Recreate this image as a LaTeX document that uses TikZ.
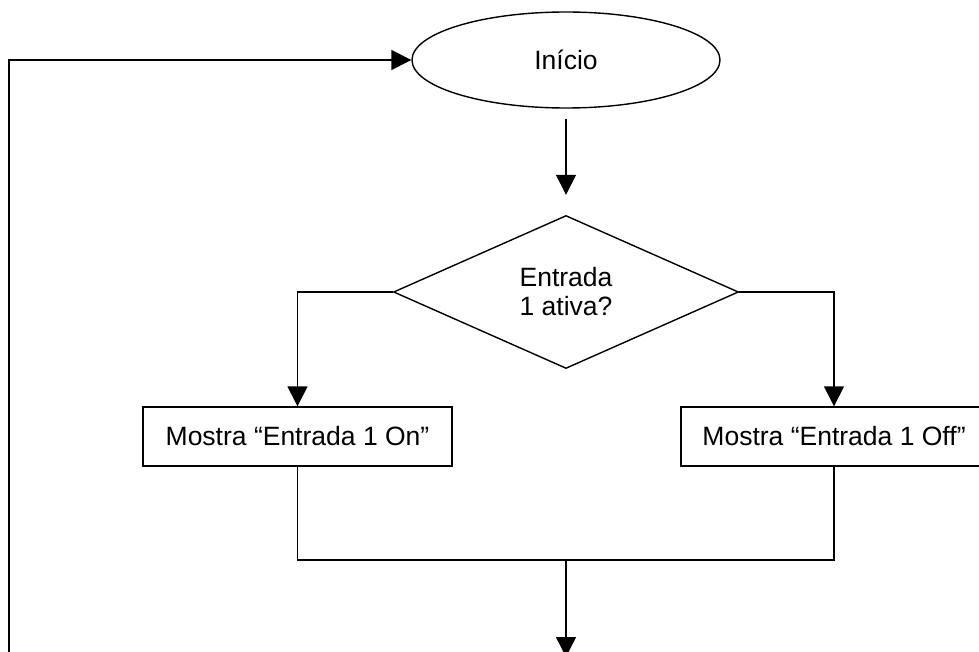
\documentclass[tikz,border=0pt]{standalone}
\usepackage{fontspec}
\setmainfont{Liberation Sans}
\usetikzlibrary{shapes.geometric,arrows.meta}
\begin{document}
\begin{tikzpicture}[x=1pt,y=-1pt,
  every node/.style={font=\fontsize{26.5}{29}\selectfont, line width=1.4pt, inner sep=0pt, align=center},
  conn/.style={line width=1.4pt},
  arr/.style={conn, -{Triangle[length=20pt,width=20pt]}},
  startbox/.style={draw, ellipse, minimum width=308pt, minimum height=96pt},
  decbox/.style={draw, diamond, minimum width=345pt, minimum height=153pt},
  procbox/.style={draw, rectangle, minimum height=59pt}]
\useasboundingbox (0,0) rectangle (979,652);
\node[startbox] (start) at (566,60) {Início};
\node[decbox] (dec) at (566,292) {Entrada\\1 ativa?};
\node[procbox, minimum width=309pt] (on) at (297.5,436.5) {Mostra “Entrada 1 On”};
\node[procbox, minimum width=306pt] (off) at (834,436.5) {Mostra “Entrada 1 Off”};
\coordinate (merge) at (566,560);
\coordinate (endpt) at (566,657);
\coordinate (loopbot) at (9,660);
\draw[arr, shorten <=10pt, shorten >=20pt] (start) -- (dec);
\draw[arr] (dec.west) -| (on.north);
\draw[arr] (dec.east) -| (off.north);
\draw[conn] (on.south) |- (merge) -| (off.south);
\draw[arr] (merge) -- (endpt);
\draw[arr] (loopbot) |- (start.west);
\end{tikzpicture}
\end{document}
